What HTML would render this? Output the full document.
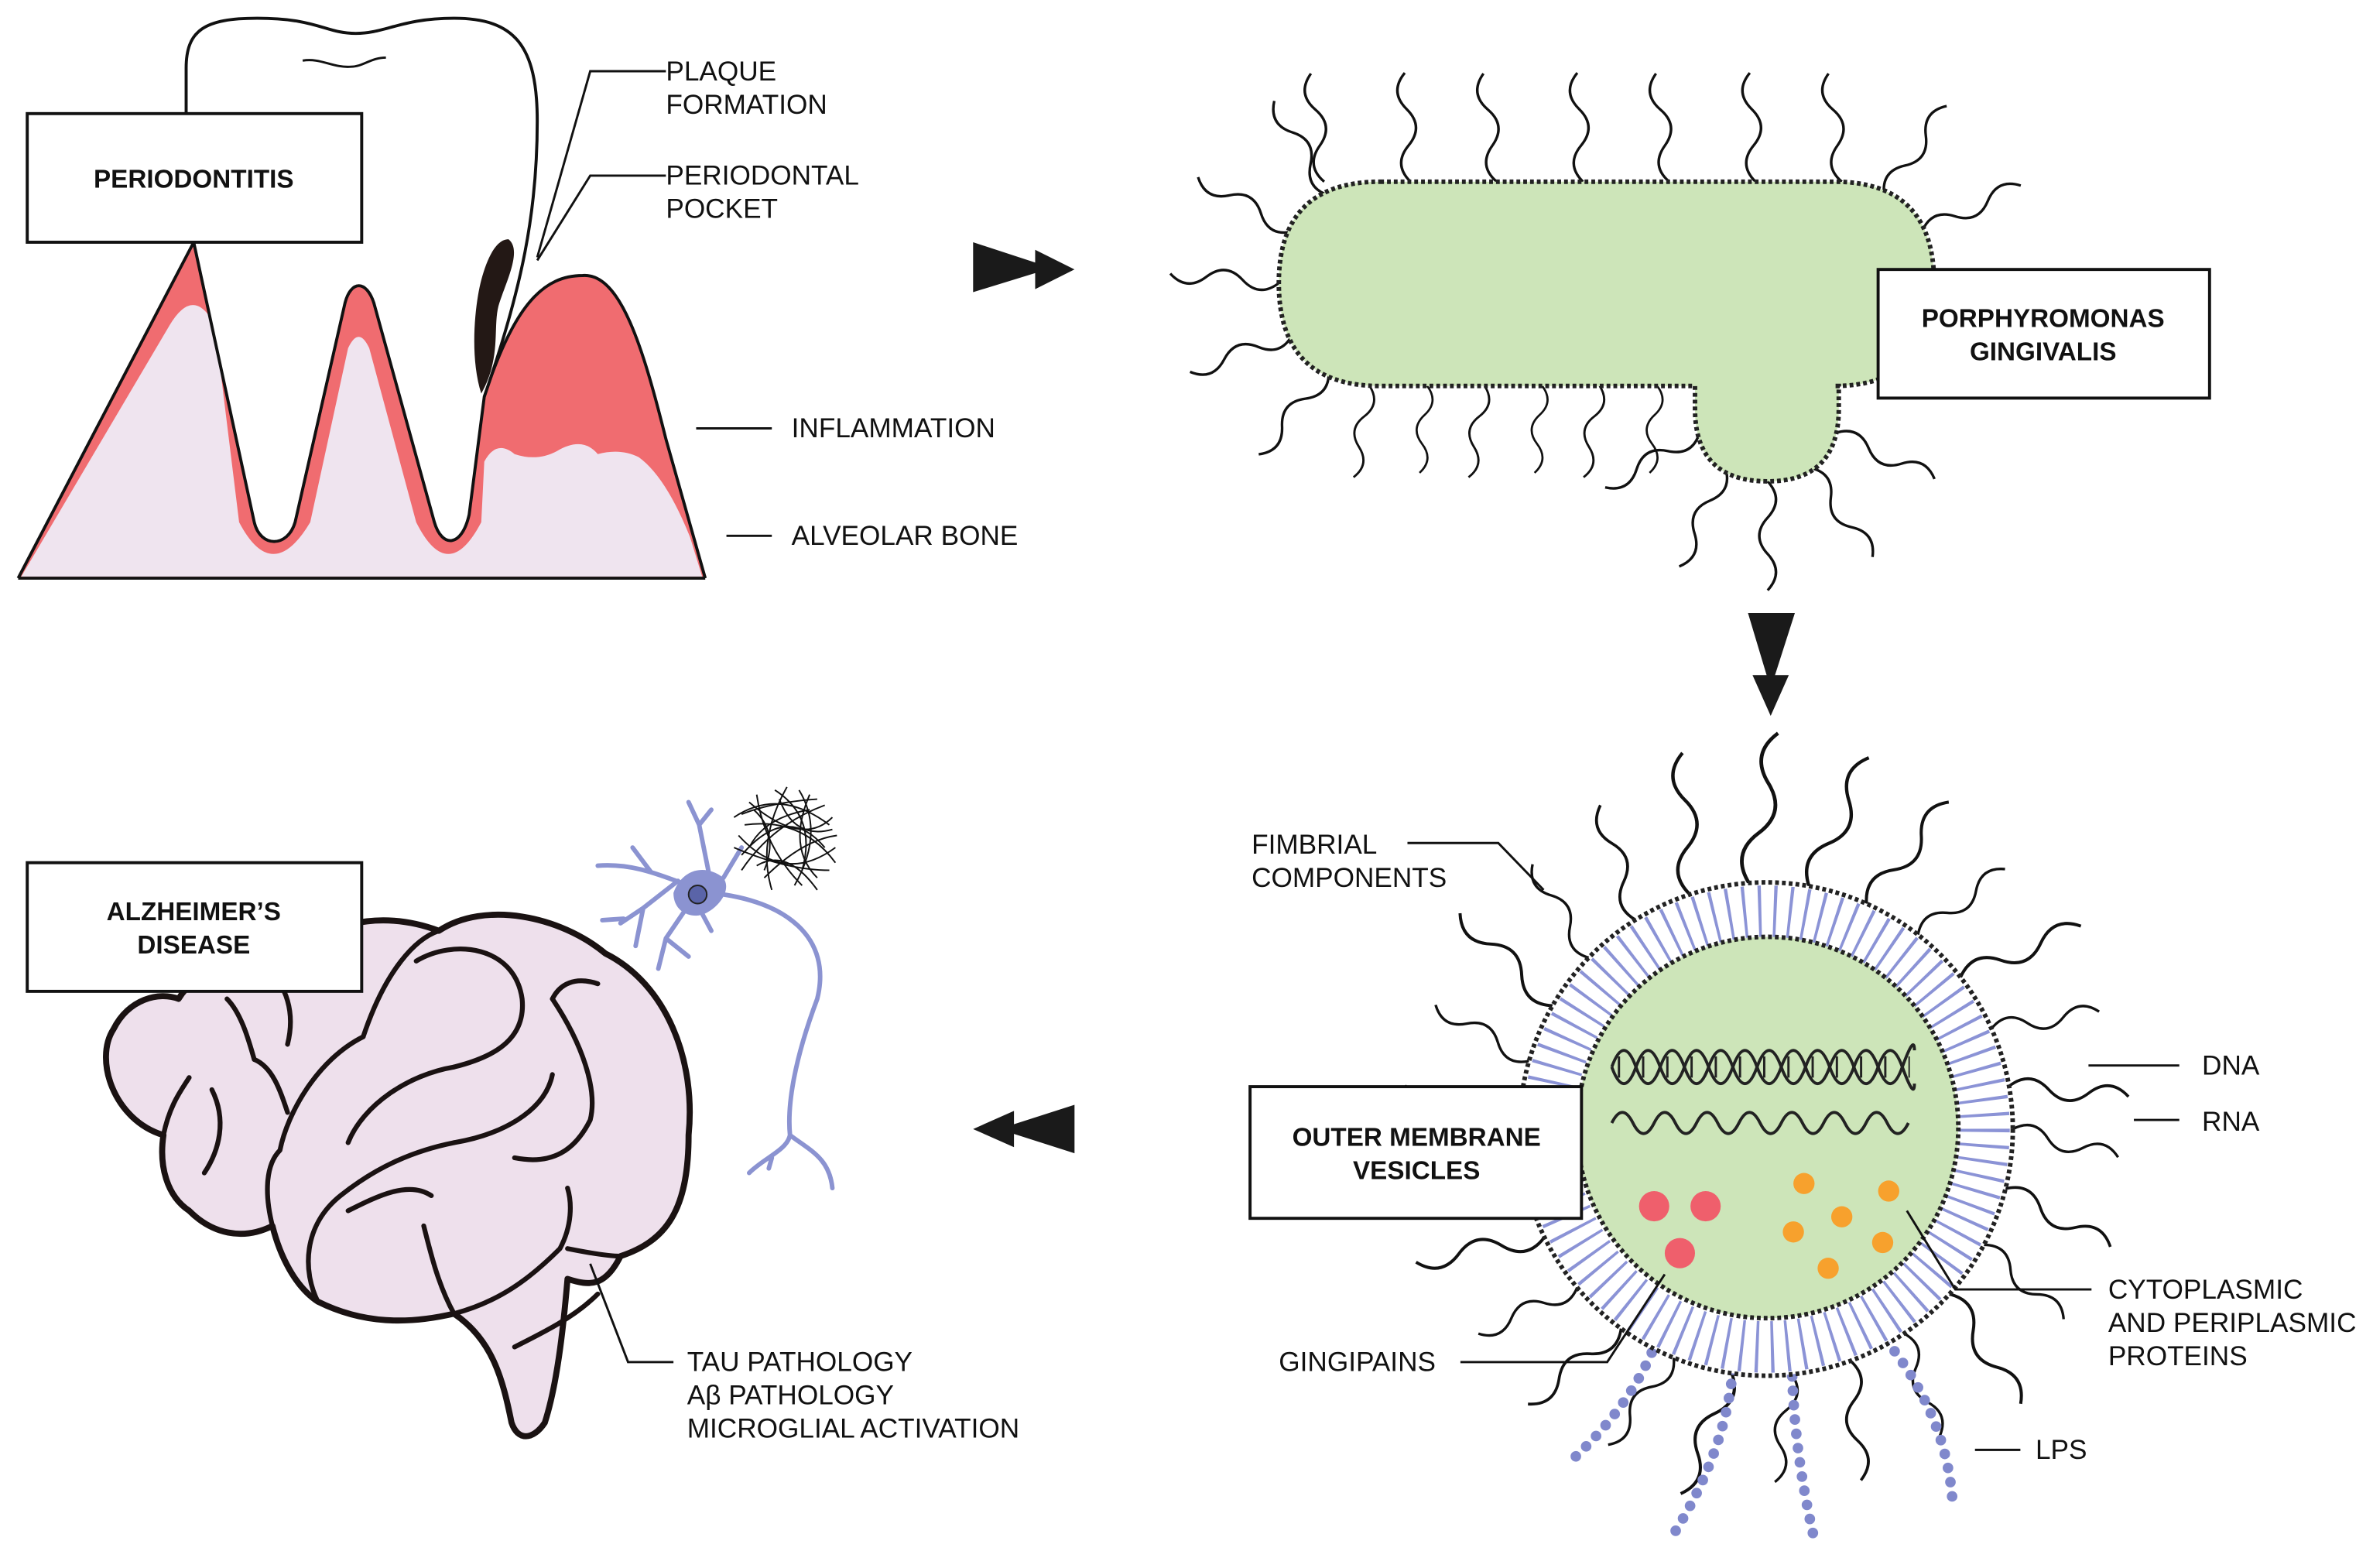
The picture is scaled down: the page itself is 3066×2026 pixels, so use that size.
<!DOCTYPE html>
<html><head><meta charset="utf-8"><style>
html,body{margin:0;padding:0;background:#fff;}
svg{display:block}
text{font-family:"Liberation Sans",sans-serif;font-size:18px;fill:#111}
text.b{font-weight:bold;font-size:17px}
</style></head><body>
<svg width="3066" height="2026" viewBox="0 0 1568 1036" xmlns="http://www.w3.org/2000/svg">
<defs>
<path id="f" d="M0,0 q12,-11 24,0 t24,0 t24,0" fill="none" stroke="#111" stroke-width="1.7"/>
</defs>
<rect width="1568" height="1036" fill="#fff"/>
<!-- Periodontitis -->
<path d="M12,382 L128,160 L330,160 L321,262 C340,200 360,182 385,182 C410,180 425,230 440,290 L466,382 Z" fill="#f06c70"/>
<path d="M14,381 L112,215 Q128,188 142,215 L158,345 Q180,387 205,345 L230,230 Q237,215 244,230 L275,345 Q296,387 318,345 L320,305 Q328,290 340,300 Q355,305 368,298 Q385,288 395,300 Q410,296 422,302 Q440,315 456,355 L464,381 Z" fill="#efe4ef"/>
<g stroke="#111" stroke-width="2" fill="none">
<path d="M12,382 L128,160"/><path d="M12,382 L466,382"/>
<path d="M320,262 C340,200 360,182 385,182 C410,180 425,230 440,290 L466,382"/>
<path d="M123,75 L123,45 C123,20 135,12 170,12 C210,12 215,22 235,22 C255,22 265,12 300,12 C340,12 355,30 355,80 C355,140 345,190 320,262 L310,340 C305,362 292,362 287,345 L247,200 C242,185 232,185 228,200 L195,345 C190,362 172,362 168,345 L128,160" fill="#fff"/>
<path d="M200,40 C212,38 220,45 232,44 C240,44 245,38 255,38" stroke-width="1.5"/>
<g stroke-width="1.5"><path d="M440,47 L390,47 L355,170"/><path d="M440,116 L390,116 L355,172"/><path d="M460,283 L510,283"/><path d="M480,354 L510,354"/></g>
</g>
<path d="M336,158 C345,165 335,185 330,200 C325,215 332,235 318,260 C310,235 314,200 318,185 C322,170 328,158 336,158 Z" fill="#231815"/>
<rect x="18" y="75" width="221" height="85" fill="#fff" stroke="#111" stroke-width="2"/>
<text class="b" x="128" y="124" text-anchor="middle">PERIODONTITIS</text>
<text x="440" y="53">PLAQUE</text><text x="440" y="75">FORMATION</text>
<text x="440" y="122">PERIODONTAL</text><text x="440" y="144">POCKET</text>
<text x="523" y="289">INFLAMMATION</text><text x="523" y="360">ALVEOLAR BONE</text>
<!-- arrows -->
<g fill="#1a1a1a">
<polygon points="643,160 695,177 643,193"/><polygon points="684,165 710,178 684,191"/>
<polygon points="1155,405 1186,405 1170,455"/><polygon points="1158,446 1182,446 1170,473"/>
<polygon points="710,730 710,762 660,746"/><polygon points="670,734 670,758 643,746"/>
</g>
<!-- bacterium flagella -->
<g>
<use href="#f" transform="translate(875,120) rotate(-97)"/><use href="#f" transform="translate(932,120) rotate(-93)"/>
<use href="#f" transform="translate(989,120) rotate(-97)"/><use href="#f" transform="translate(1046,120) rotate(-93)"/>
<use href="#f" transform="translate(1103,120) rotate(-97)"/><use href="#f" transform="translate(1160,120) rotate(-93)"/>
<use href="#f" transform="translate(1217,120) rotate(-97)"/>
<use href="#f" transform="translate(905,255) rotate(100) scale(0.85)"/><use href="#f" transform="translate(943,255) rotate(95) scale(0.8)"/>
<use href="#f" transform="translate(981,255) rotate(100) scale(0.85)"/><use href="#f" transform="translate(1019,255) rotate(95) scale(0.8)"/>
<use href="#f" transform="translate(1057,255) rotate(100) scale(0.85)"/><use href="#f" transform="translate(1095,255) rotate(95) scale(0.8)"/>
<use href="#f" transform="translate(878,245) rotate(130)"/><use href="#f" transform="translate(854,221) rotate(160)"/>
<use href="#f" transform="translate(845,187) rotate(185)"/><use href="#f" transform="translate(854,153) rotate(210)"/>
<use href="#f" transform="translate(878,129) rotate(240)"/>
<use href="#f" transform="translate(1245,129) rotate(-55)"/><use href="#f" transform="translate(1270,153) rotate(-25)"/>
<use href="#f" transform="translate(1213,286) rotate(25)"/><use href="#f" transform="translate(1196,309) rotate(55)"/>
<use href="#f" transform="translate(1168,318) rotate(90)"/><use href="#f" transform="translate(1140,309) rotate(115)"/>
<use href="#f" transform="translate(1123,286) rotate(150)"/>
</g>
<path d="M912,120 L1212,120 Q1278,120 1278,187 Q1278,255 1212,255 L1215,255 L1215,270 Q1215,318 1168,318 Q1120,318 1120,270 L1120,255 L912,255 Q845,255 845,187 Q845,120 912,120 Z" fill="#cde5b9" stroke="#222" stroke-width="3" stroke-dasharray="2.5 2"/>
<rect x="1241" y="178" width="219" height="85" fill="#fff" stroke="#111" stroke-width="2"/>
<text class="b" x="1350" y="216" text-anchor="middle">PORPHYROMONAS</text><text class="b" x="1350" y="238" text-anchor="middle">GINGIVALIS</text>
<!-- vesicle flagella -->
<g transform="translate(1167,746)">
<use href="#f" transform="rotate(0) translate(163,0) rotate(15)"/>
<use href="#f" transform="rotate(14) translate(163,0) rotate(15) scale(1.1)"/>
<use href="#f" transform="rotate(28) translate(163,0) rotate(15)"/>
<use href="#f" transform="rotate(42) translate(163,0) rotate(15) scale(1.2)"/>
<use href="#f" transform="rotate(56) translate(163,0) rotate(15)"/>
<use href="#f" transform="rotate(70) translate(163,0) rotate(15) scale(1.1)"/>
<use href="#f" transform="rotate(84) translate(163,0) rotate(15)"/>
<use href="#f" transform="rotate(98) translate(163,0) rotate(15) scale(1.2)"/>
<use href="#f" transform="rotate(112) translate(163,0) rotate(15)"/>
<use href="#f" transform="rotate(126) translate(163,0) rotate(15) scale(1.1)"/>
<use href="#f" transform="rotate(140) translate(163,0) rotate(15)"/>
<use href="#f" transform="rotate(154) translate(163,0) rotate(15) scale(1.2)"/>
<use href="#f" transform="rotate(168) translate(163,0) rotate(15)"/>
<use href="#f" transform="rotate(182) translate(163,0) rotate(15) scale(1.1)"/>
<use href="#f" transform="rotate(196) translate(163,0) rotate(15)"/>
<use href="#f" transform="rotate(210) translate(163,0) rotate(15) scale(1.2)"/>
<use href="#f" transform="rotate(224) translate(163,0) rotate(15)"/>
<use href="#f" transform="rotate(238) translate(163,0) rotate(15) scale(1.1)"/>
<use href="#f" transform="rotate(252) translate(163,0) rotate(15) scale(1.3)"/>
<use href="#f" transform="rotate(266) translate(163,0) rotate(15) scale(1.4)"/>
<use href="#f" transform="rotate(280) translate(163,0) rotate(15) scale(1.3)"/>
<use href="#f" transform="rotate(294) translate(163,0) rotate(15) scale(1.2)"/>
<use href="#f" transform="rotate(308) translate(163,0) rotate(15)"/>
<use href="#f" transform="rotate(322) translate(163,0) rotate(15) scale(1.2)"/>
<use href="#f" transform="rotate(336) translate(163,0) rotate(15)"/>
<use href="#f" transform="rotate(350) translate(163,0) rotate(15) scale(1.1)"/>
</g>
<!-- LPS -->
<g fill="none" stroke="#8088cc" stroke-width="7" stroke-linecap="round" stroke-dasharray="0 9.5">
<path d="M1095,885 Q1078,930 1035,968"/><path d="M1145,905 Q1140,960 1105,1015"/>
<path d="M1184,900 Q1185,960 1200,1022"/><path d="M1240,878 Q1285,930 1290,990"/>
</g>
<circle cx="1167" cy="746" r="163" fill="#fff" stroke="#222" stroke-width="3" stroke-dasharray="2.5 2"/>
<circle cx="1167" cy="746" r="144" fill="none" stroke="#8b93d6" stroke-width="34" stroke-dasharray="2 8.05"/>
<circle cx="1168" cy="745" r="126" fill="#cde5b9" stroke="#222" stroke-width="3" stroke-dasharray="2.5 2"/>
<g fill="none" stroke="#222" stroke-width="2">
<path d="M1065,705 q8,-22 16,0 t16,0 t16,0 t16,0 t16,0 t16,0 t16,0 t16,0 t16,0 t16,0 t16,0 t16,0 t8,-11"/>
<path d="M1065,705 q8,22 16,0 t16,0 t16,0 t16,0 t16,0 t16,0 t16,0 t16,0 t16,0 t16,0 t16,0 t16,0 t8,11"/>
<path d="M1069,705 L1262,705" stroke-width="14" stroke-dasharray="1.5 14.5"/>
<path d="M1065,742 q7,-14 14,0 t14,0 t14,0 t14,0 t14,0 t14,0 t14,0 t14,0 t14,0 t14,0 t14,0 t14,0 t14,0 t14,0"/>
</g>
<g fill="#ef5f6c"><circle cx="1093" cy="797" r="10"/><circle cx="1127" cy="797" r="10"/><circle cx="1110" cy="828" r="10"/></g>
<g fill="#f7a12d"><circle cx="1192" cy="782" r="7"/><circle cx="1248" cy="787" r="7"/><circle cx="1217" cy="804" r="7"/><circle cx="1185" cy="814" r="7"/><circle cx="1244" cy="821" r="7"/><circle cx="1208" cy="838" r="7"/></g>
<g fill="none" stroke="#111" stroke-width="1.5">
<path d="M930,557 L990,557 L1020,588"/><path d="M1380,704 L1440,704"/><path d="M1410,740 L1440,740"/>
<path d="M1260,800 L1292,852 L1382,852"/><path d="M965,900 L1062,900 L1100,842"/><path d="M1305,958 L1335,958"/>
</g>
<rect x="826" y="718" width="219" height="87" fill="#fff" stroke="#111" stroke-width="2"/>
<text class="b" x="936" y="757" text-anchor="middle">OUTER MEMBRANE</text><text class="b" x="936" y="779" text-anchor="middle">VESICLES</text>
<text x="827" y="564">FIMBRIAL</text><text x="827" y="586">COMPONENTS</text>
<text x="1455" y="710">DNA</text><text x="1455" y="747">RNA</text>
<text x="1393" y="858">CYTOPLASMIC</text><text x="1393" y="880">AND PERIPLASMIC</text><text x="1393" y="902">PROTEINS</text>
<text x="845" y="906">GINGIPAINS</text><text x="1345" y="964">LPS</text>
<!-- brain -->
<g stroke="#1a1212" stroke-width="4" stroke-linecap="round" stroke-linejoin="round">
<path d="M118,660 C130,640 160,630 185,640 C210,610 250,600 290,615 C320,595 370,605 400,630 C440,650 460,700 455,750 C455,800 440,820 410,830 C400,850 390,850 375,845 C372,880 368,915 360,940 C352,952 342,952 338,940 C332,910 325,885 300,868 C270,875 240,875 210,860 C195,850 185,830 180,810 C160,820 140,815 125,800 C110,790 105,770 108,750 C75,740 62,700 75,680 C85,660 105,655 118,660 Z" fill="#eee0ec"/>
<g fill="none" stroke-width="3.2">
<path d="M175,640 C190,650 195,670 190,690"/><path d="M150,660 C160,670 165,690 168,700"/>
<path d="M108,750 C112,730 120,720 125,712"/><path d="M140,720 C150,740 145,760 135,775"/>
<path d="M180,810 C175,790 175,770 185,760 C190,735 210,700 240,685"/>
<path d="M168,700 C180,705 185,720 190,735"/><path d="M240,685 C255,640 275,620 290,615"/>
<path d="M275,635 C300,620 340,625 345,660 C348,690 320,700 300,705"/>
<path d="M300,705 C270,710 240,730 230,755"/><path d="M210,860 C200,840 200,810 225,790 C250,770 275,760 300,755"/>
<path d="M300,755 C330,750 360,735 365,710"/><path d="M395,650 C380,645 370,650 365,660"/>
<path d="M365,660 C385,690 395,720 390,740 C380,760 365,770 340,765"/>
<path d="M230,800 C250,790 270,780 285,790"/><path d="M300,868 C290,850 285,830 280,810"/>
<path d="M300,868 C330,860 350,845 370,825 C378,810 378,795 375,785"/>
<path d="M340,890 C360,880 380,870 395,855"/><path d="M375,825 C390,828 402,830 410,830"/>
</g></g>
<path d="M390,835 L415,900 L445,900" fill="none" stroke="#111" stroke-width="1.5"/>
<rect x="18" y="570" width="221" height="85" fill="#fff" stroke="#111" stroke-width="2"/>
<text class="b" x="128" y="608" text-anchor="middle">ALZHEIMER’S</text><text class="b" x="128" y="630" text-anchor="middle">DISEASE</text>
<text x="454" y="906">TAU PATHOLOGY</text><text x="454" y="928">Aβ PATHOLOGY</text><text x="454" y="950">MICROGLIAL ACTIVATION</text>
<!-- neuron -->
<g fill="none" stroke="#8b93d1" stroke-width="3" stroke-linecap="round">
<path d="M470,590 C520,595 550,620 540,660 C525,700 520,730 522,750 C520,760 505,765 495,775 M522,750 C535,760 548,765 550,785 M510,765 L508,772"/>
<path d="M455,585 C440,580 420,570 395,572 M430,576 L418,560 M448,582 L425,600 L410,610 M425,600 L420,625 M412,607 L398,608 M455,598 L440,620 L435,640 M440,620 L455,632 M462,600 L470,615 M470,585 L462,545 M462,545 L455,530 M462,545 L470,535 M478,580 L490,560"/>
</g>
<path d="M445,590 C450,575 465,570 478,580 C485,590 470,605 460,605 C452,605 445,600 445,590 Z" fill="#8b93d1"/>
<circle cx="461" cy="591" r="6" fill="#5a64a8" stroke="#222" stroke-width="1"/>
<g fill="none" stroke="#111" stroke-width="1">
<path d="M485,540 Q515,520 548,545"/><path d="M490,565 Q520,530 545,560"/><path d="M495,530 Q530,560 550,540"/>
<path d="M488,552 Q518,585 552,560"/><path d="M500,525 Q505,560 530,585"/><path d="M520,520 Q500,555 510,588"/>
<path d="M535,525 Q520,560 540,580"/><path d="M545,532 Q510,545 490,575"/><path d="M492,545 Q530,540 552,570"/>
<path d="M505,580 Q530,555 553,552"/><path d="M512,522 Q540,540 530,575"/><path d="M485,560 Q520,575 548,575"/>
<path d="M498,535 Q515,550 505,575"/><path d="M528,522 Q545,550 525,585"/><path d="M490,538 Q510,530 540,528"/>
<path d="M500,572 Q520,560 540,588"/><path d="M515,528 Q525,555 550,548"/><path d="M495,560 Q505,540 535,535"/>
</g>
</svg>
</body></html>
